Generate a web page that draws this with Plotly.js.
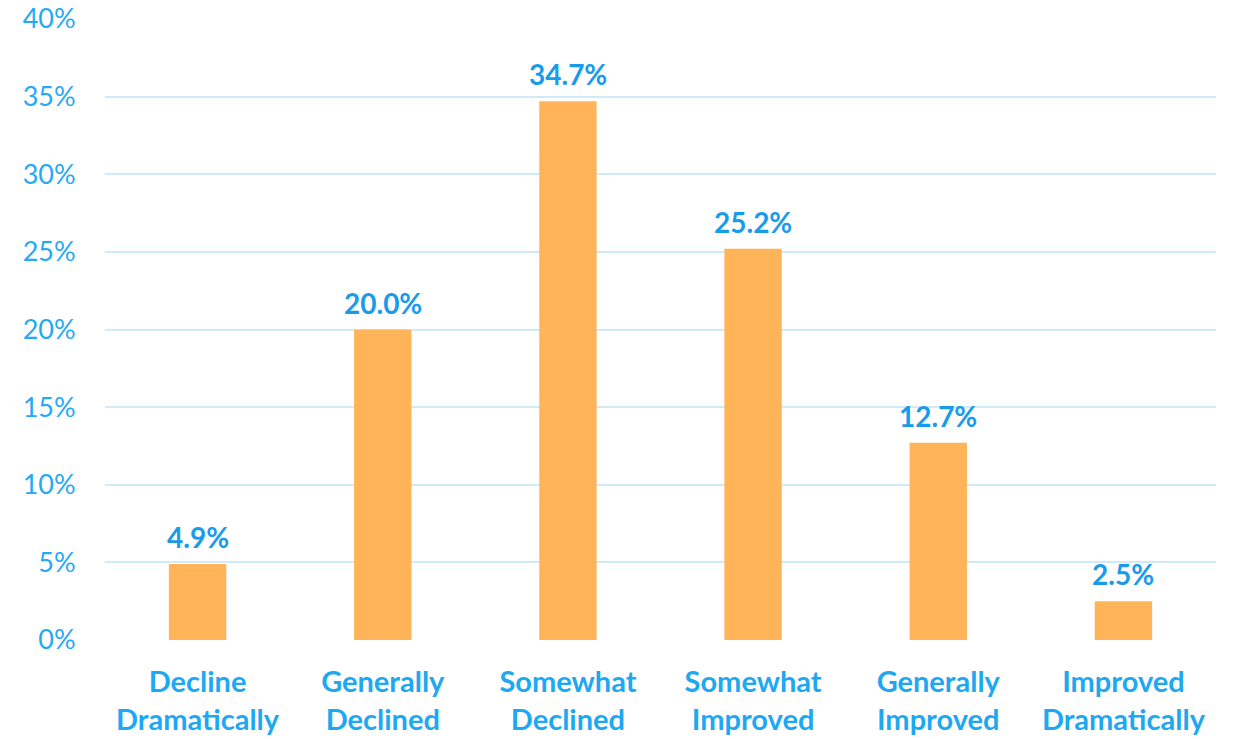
<!DOCTYPE html>
<html><head><meta charset="utf-8">
<script src="https://cdn.plot.ly/plotly-3.0.1.min.js"></script>
<style>html,body{margin:0;padding:0;background:#fff}#chart{width:1233px;height:739px}</style>
</head><body><div id="chart"></div>
<script>
var categories = ["Decline<br>Dramatically","Generally<br>Declined","Somewhat<br>Declined","Somewhat<br>Improved","Generally<br>Improved","Improved<br>Dramatically"];
var values = [4.9, 20.0, 34.7, 25.2, 12.7, 2.5];
var tickVals = [0,5,10,15,20,25,30,35,40];
var tickText = tickVals.map(function(v){return v+"%";});

var trace = {
  type: "bar",
  x: categories,
  y: values,
  marker: {color: "#FFB45A"},
  hoverinfo: "none"
};
var annotations = values.map(function(v, i){
  return {
    x: categories[i], y: v, xref: "x", yref: "y",
    text: v.toFixed(1) + "%",
    showarrow: false, yanchor: "bottom", yshift: 8,
    font: {family: "Lato, 'Open Sans', sans-serif", size: 28, color: "#1A9BEA", weight: "bold"}
  };
});
var layout = {
  width: 1233, height: 739,
  margin: {l: 105, r: 17, t: 19, b: 99},
  paper_bgcolor: "#fff", plot_bgcolor: "#fff",
  showlegend: false,
  bargap: 0.69,
  font: {family: "Lato, 'Open Sans', sans-serif"},
  annotations: annotations,
  xaxis: {
    tickfont: {size: 29, color: "#1EA8F2", weight: "bold"},
    showgrid: false, zeroline: false, showline: false,
    ticks: "outside", ticklen: 16, tickcolor: "rgba(0,0,0,0)"
  },
  yaxis: {
    range: [0, 40],
    tickvals: tickVals, ticktext: tickText,
    tickfont: {size: 27, color: "#24A9F4"},
    showgrid: true, gridcolor: "#CFEAF9", gridwidth: 2,
    zeroline: false, showline: false,
    ticks: "outside", ticklen: 23, tickcolor: "rgba(0,0,0,0)"
  }
};
Plotly.newPlot("chart", [trace], layout, {displayModeBar: false, staticPlot: true});
</script></body></html>
